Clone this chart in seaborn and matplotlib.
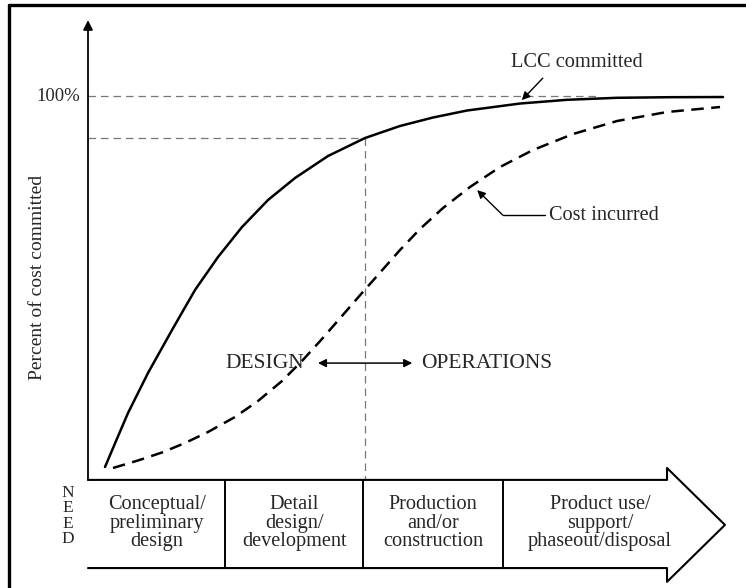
import matplotlib
matplotlib.use('Agg')
import matplotlib.pyplot as plt
import seaborn as sns
import pandas as pd
from matplotlib.lines import Line2D

sns.set_style('white')
plt.rcParams['font.family'] = ['Liberation Serif', 'DejaVu Serif']

# x = share of life cycle (0 at the y axis, 100 at the arrow tip), y = percent
lcc_x = [2.67, 4.40, 6.28, 9.42, 13.19, 16.80, 20.41, 24.18, 28.26, 32.50,
         37.68, 43.49, 48.98, 54.16, 59.50, 67.82, 75.20, 83.05, 91.37, 99.69]
lcc_y = [0.27, 7.26, 14.78, 25.54, 37.10, 47.85, 56.72, 64.78, 72.04, 77.96,
         83.87, 88.71, 91.94, 94.22, 96.10, 97.98, 98.98, 99.52, 99.68, 99.73]

inc_x = [3.92, 7.85, 11.62, 15.23, 18.84, 23.08, 26.69, 30.46, 33.59, 36.73,
         39.87, 43.01, 46.62, 48.98, 52.12, 55.73, 59.97, 64.68, 69.86, 76.14,
         83.05, 90.89, 99.22]
inc_y = [0.00, 2.02, 4.17, 6.72, 9.68, 13.71, 18.01, 23.39, 28.76, 34.68,
         40.86, 47.04, 54.03, 58.60, 64.25, 69.89, 75.54, 80.91, 85.48, 89.78,
         93.28, 95.70, 97.04]

# end of design phase: share of life cycle and cost committed at that point
design_end_x = 43.5
design_end_y = 88.7

phases = ['Conceptual/\npreliminary\ndesign', 'Detail\ndesign/\ndevelopment',
          'Production\nand/or\nconstruction', 'Product use/\nsupport/\nphaseout/disposal']
phase_edges = [0, 21.5, 43.2, 65.1, 90.9]
phase_text_x = [10.8, 32.4, 54.2, 80.4]

lcc = pd.DataFrame({'x': lcc_x, 'y': lcc_y})
inc = pd.DataFrame({'x': inc_x, 'y': inc_y})

fig = plt.figure(figsize=(7.46, 5.88), dpi=100)
ax = fig.add_axes([0, 0, 1, 1])
ax.set_xlim(-13.815, 103.3)
ax.set_ylim(-32.26, 125.81)
ax.axis('off')

# outer frame (top and left edges only visible)
fig.add_artist(Line2D([0.012, 1], [0.9915, 0.9915], color='black', lw=2.4))
fig.add_artist(Line2D([0.012, 0.012], [0, 0.9915], color='black', lw=2.4))

# y axis with arrow
ax.annotate('', xy=(0, 120.4), xytext=(0, -3.2),
            arrowprops=dict(arrowstyle='-|>', color='black', lw=1.3,
                            mutation_scale=14, shrinkA=0, shrinkB=0))
ax.text(-1.3, 100, '100%', ha='right', va='center', fontsize=13.5)
ax.text(-8.0, 51.3, 'Percent of cost committed', rotation=90,
        ha='center', va='center', fontsize=14)

# reference dashed lines
ref = dict(color='#777777', lw=0.9, ls=(0, (6, 4)))
ax.plot([0, 80], [100, 100], **ref)
ax.plot([0, design_end_x], [design_end_y, design_end_y], **ref)
ax.plot([design_end_x, design_end_x], [design_end_y, -3.2], **ref)

# curves
sns.lineplot(data=lcc, x='x', y='y', ax=ax, color='black', lw=1.8)
sns.lineplot(data=inc, x='x', y='y', ax=ax, color='black', lw=1.8,
             dashes=False, linestyle=(0, (5, 3)))

# labels on curves
ax.text(76.8, 109.1, 'LCC committed', ha='center', va='center', fontsize=14.7)
ax.annotate('', xy=(68.1, 98.9), xytext=(71.4, 104.8),
            arrowprops=dict(arrowstyle='-|>', color='black', lw=1.0,
                            mutation_scale=12, shrinkA=0, shrinkB=0))
ax.text(72.4, 68.0, 'Cost incurred', ha='left', va='center', fontsize=14.6)
ax.plot([71.7, 65.1], [68.0, 68.0], color='black', lw=1.0)
ax.annotate('', xy=(61.1, 74.7), xytext=(65.1, 68.0),
            arrowprops=dict(arrowstyle='-|>', color='black', lw=1.0,
                            mutation_scale=12, shrinkA=0, shrinkB=0))

ax.text(27.8, 28.2, 'DESIGN', ha='center', va='center', fontsize=15.5)
ax.text(62.6, 28.2, 'OPERATIONS', ha='center', va='center', fontsize=15.5)
ax.annotate('', xy=(36.1, 28.2), xytext=(50.9, 28.2),
            arrowprops=dict(arrowstyle='<|-|>', color='black', lw=1.1,
                            mutation_scale=12, shrinkA=0, shrinkB=0))

# life-cycle phase arrow
top, bot = -3.2, -26.9
ax.plot([0, phase_edges[-1], phase_edges[-1], 100, phase_edges[-1],
         phase_edges[-1], 0],
        [top, top, 0.0, -15.3, -30.6, bot, bot], color='black', lw=1.5)
for e in phase_edges[1:-1]:
    ax.plot([e, e], [top, bot], color='black', lw=1.4)
for tx, name in zip(phase_text_x, phases):
    ax.text(tx, -14.8, name, ha='center', va='center', fontsize=14.6,
            linespacing=0.97)
ax.text(-3.1, -12.9, 'N\nE\nE\nD', ha='center', va='center', fontsize=12.5,
        linespacing=0.92)

fig.savefig('out.png', dpi=100)
